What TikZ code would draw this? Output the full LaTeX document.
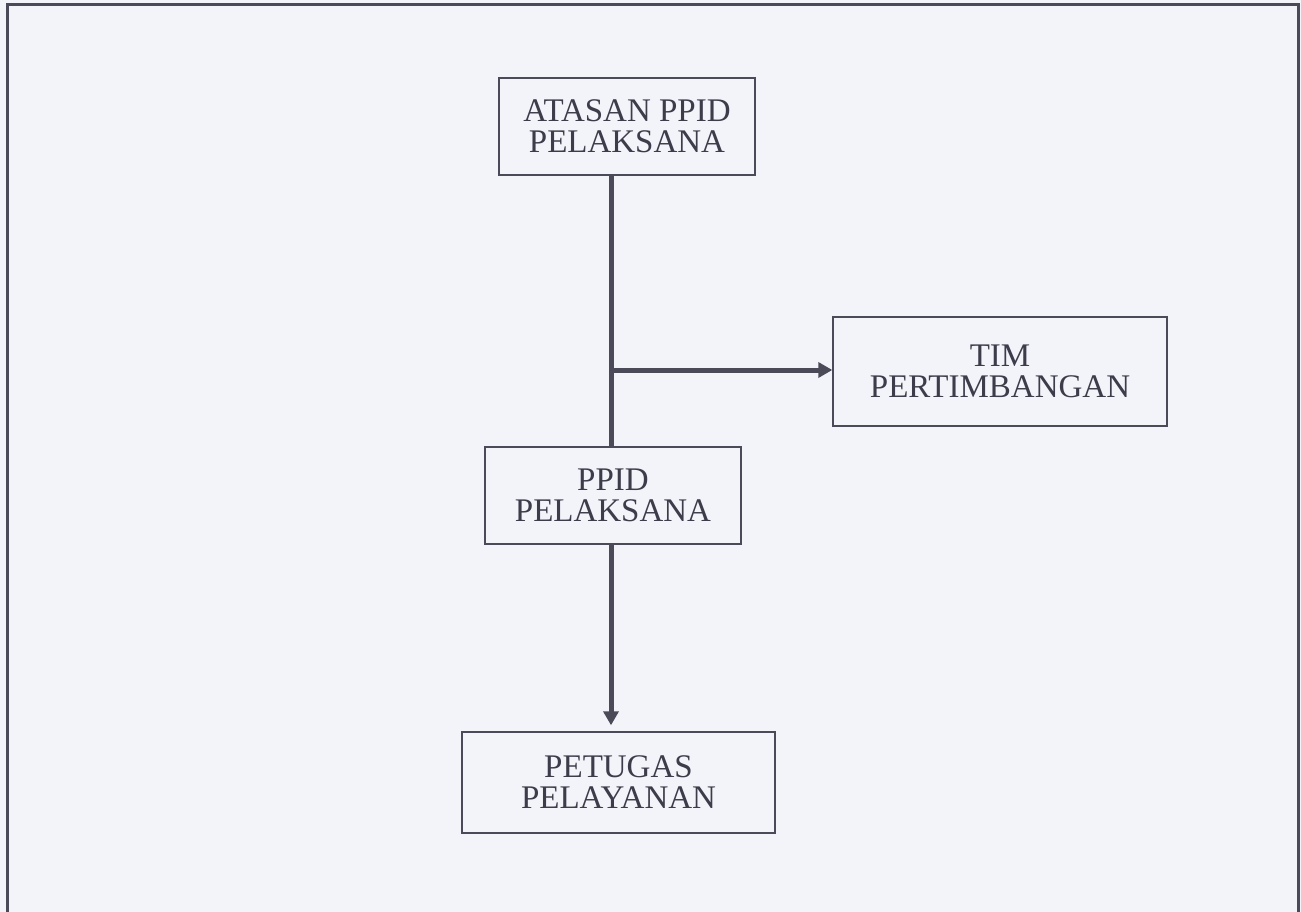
\documentclass[tikz,border=0pt]{standalone}
\usepackage{fontspec}
\setmainfont{Liberation Serif}
\usetikzlibrary{arrows.meta,calc}
\definecolor{bg}{HTML}{F3F4FA}
\definecolor{ink}{HTML}{3C3C4A}
\definecolor{linec}{HTML}{4A4A58}
\begin{document}
\begin{tikzpicture}[x=1pt,y=-1pt,
  box/.style={draw=linec, line width=1.4pt, fill=bg, align=center, text=ink,
    inner sep=0pt, font=\fontsize{33}{31}\selectfont},
  conn/.style={draw=linec, line width=5pt},
  tip/.style={-{Triangle[length=14pt,width=15pt]}}]
\fill[bg] (0,0) rectangle (1301,912);
\useasboundingbox (0,0) rectangle (1301,912);
\draw[linec, line width=3pt] (7,930) -- (7,5) -- (1298,5) -- (1298,930);
\node[box, minimum width=256pt, minimum height=97pt] (atasan) at (627,126.5) {ATASAN PPID\\PELAKSANA};
\node[box, minimum width=334pt, minimum height=109pt] (tim) at (1000,371.5) {TIM\\PERTIMBANGAN};
\node[box, minimum width=256pt, minimum height=97pt] (ppid) at (613,495.5) {PPID\\PELAKSANA};
\node[box, minimum width=313pt, minimum height=101pt] (petugas) at (618.5,782.5) {PETUGAS\\PELAYANAN};
\coordinate (j) at (611,370);
\draw[conn] (atasan.south -| j) -- (ppid.north -| j);
\draw[conn, tip] (j) -- (tim.west |- j);
\draw[conn, tip, shorten >=6pt] (ppid.south -| j) -- (petugas.north -| j);
\end{tikzpicture}
\end{document}
